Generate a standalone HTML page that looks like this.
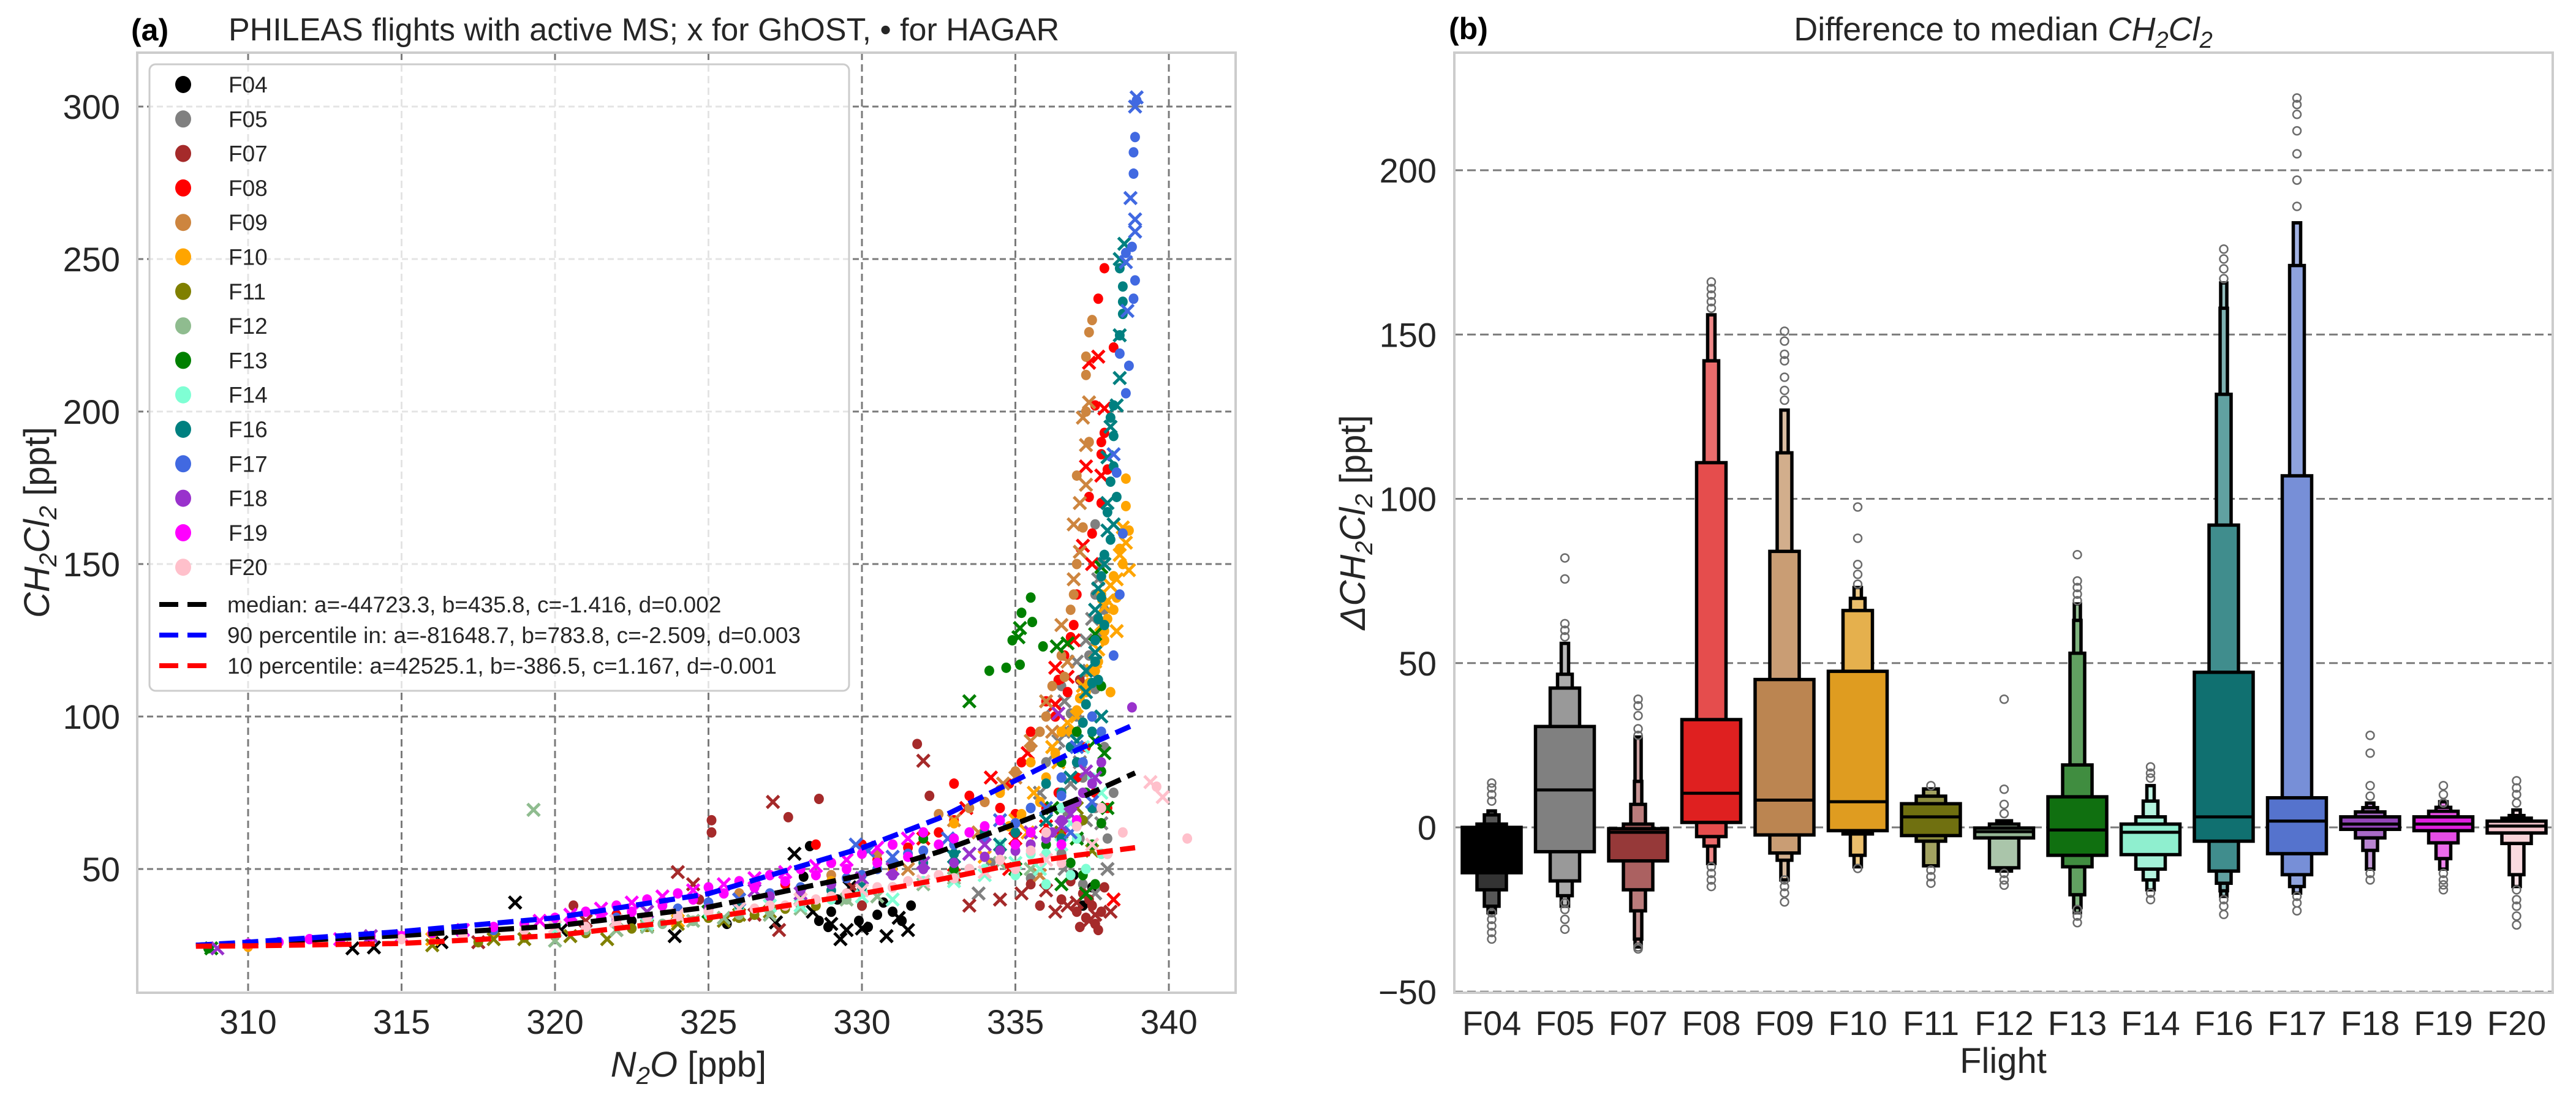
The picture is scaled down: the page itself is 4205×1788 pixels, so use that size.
<!DOCTYPE html>
<html><head><meta charset="utf-8"><title>PHILEAS CH2Cl2</title>
<style>
html,body{margin:0;padding:0;background:#fff;}
svg{display:block;font-family:"Liberation Sans",Arial,sans-serif;}
</style></head>
<body>
<svg id="fig" xmlns="http://www.w3.org/2000/svg" width="4205" height="1788" viewBox="0 0 4205 1788">
<rect x="0" y="0" width="4205" height="1788" fill="#fff"/>
<defs><clipPath id="clipA"><rect x="224" y="86" width="1793" height="1535"/></clipPath></defs>
<g id="panelA"></g>
<g id="panelB"></g>
</svg>
<script>
// ---------------- Panel (a) data ----------------
const flights = ['F04','F05','F07','F08','F09','F10','F11','F12','F13','F14','F16','F17','F18','F19','F20'];
const flightColors = ['#000000','#808080','#a52a2a','#ff0000','#cd853f','#ffa500','#808000','#8fbc8f','#008000','#7fffd4','#008080','#4169e1','#9932cc','#ff00ff','#ffc0cb'];
const xTicksA = [310,315,320,325,330,335,340];
const yTicksA = [50,100,150,200,250,300];
// HAGAR (dots) per flight: flat [n2o, ch2cl2, ...]
const dotsF04 = [328.1,47.5,328.3,57.5,329.2,40,329.9,33,330.5,35,331.6,38,328.9,31,330.7,39,322.5,33,325.6,32,337.2,38,337.5,44,336.9,48,329,36,330,38,331,36,331.3,33,330.2,31,328.6,33];
const dotsF05 = [336.3,100,336.8,101,337.6,163,337.8,126,337.6,109,336.8,90,337.2,80,337.6,70,338.0,60,336.5,55,337.2,45,335.5,47,334.2,52,331,44,328,38,325,36,337.8,150,337.6,140,337.9,135,337.4,120,337.2,110,337,100,336.5,110,336.6,95,336,85,337.9,90,338.2,75,337.8,55,337.1,60,336.7,68];
const dotsF07 = [325.1,66,325.1,62,328.6,73,327.6,67,331.8,91,332.2,74,337.1,112,337.5,38,337.3,34,337.8,36,337.6,32,320.6,38,318,30,324.7,40,330,38,335.5,45,337.4,40,337.2,42,337.9,44,336.8,46,336.5,40,335.8,38,337,36,337.7,30,337.1,31];
const dotsF08 = [333.5,74,333,78,334,72,335,68,336,70,336.4,75,337,80,336.5,62,331.5,57,330.5,53,328.5,58,327.5,45,326,42,322,35,318,30,337.9,247,337.7,237,338.2,221,337.6,202,337.9,193,337.8,190,337.8,186,338,181,337.4,172,337.8,170,336.6,120,336.8,126,336.7,108,336.3,100,337.5,160,337,140,336.9,130,336.4,112,336,105,335.5,95,335.2,85,334.8,78,334.5,70,333,66,332.5,62,330,58,329,52,337.3,90,337.6,75,338,70];
const dotsF09 = [337.5,230,337.4,226,337.3,218,337.3,212,337,179,337.2,162,336.8,135,336.6,113,336,100,335.5,90,334,72,332.5,68,331,58,329,48,326,42,320,32,337,150,336.9,140,336.5,120,336.2,110,335.8,95,335,82,334.5,76,333.5,70,332,62,330.5,55,337.3,200,337.4,190];
const dotsF10 = [338.6,178,338.6,169,338.7,161,338.5,150,338.2,146,338.3,139,338,132,337.9,125,337.7,118,337.4,111,337.1,106,337.8,140,338.1,108,336.5,95,335.5,85,334.5,75,333,65,330,48,327,41,324,36,318,29,310,24.5,338.4,155,338.2,135,337.9,128,337.6,115,337.3,108,337,102,336.8,95,336.3,88,336,80,335.8,72,335.2,68,334.8,64,334,60,333,55,331,50,329,46,328,42];
const dotsF11 = [323,31,326,34,327,36,319,27.5,335.5,58,337.2,66,317.5,26,324.5,33,325,34,326.5,35,320,28,321,29,322.5,30.5,327.5,37,328.5,38];
const dotsF12 = [321,30,323.5,32,326,35,328,38,331,44,336,55,324.5,33,327,36,329.5,40,332,46,334,50];
const dotsF13 = [335.5,139,335.2,134,335.55,131,334.9,125,335.9,123,334.15,115,334.7,116,335.15,117,337.8,110,337,95,336.5,85,337.3,75,337.8,65,338,55,337.6,45,332,60,326.5,44,318,30,308.7,24,337.5,58,336.8,52,337.2,48,336,58,334.5,56,333,50,330,44,328,40,337.8,82,337.5,100];
const dotsF14 = [336.5,70,337,60,335.5,55,334,50,337.5,80,336,45,330,42,325,35,336,55,337.3,50,335,48,334.5,58,333.5,50,332,46,331,44,329,40,328,39,326,37,337.8,55,336.8,48];
const dotsF16 = [338.4,247,338.5,241,338.5,236,338.5,232,338.4,225,338.2,202,338.1,198,338.2,192,338.2,182,338.1,177,338.3,172,338.0,167,338.1,158,337.9,153,337.8,146,337.8,139,337.7,132,337.6,125,337.6,118,337.5,111,337.3,104,337.5,95,337,85,336.5,75,335,62,333,55,330,44,326,38,337.9,130,337.7,112,337.2,98,336.8,90,336,78,335.5,70,334,62,332,52,331,48,329,43,336.5,60,337.5,70];
const dotsF17 = [338.95,302,338.9,290,338.85,285,338.85,278,338.8,254,338.6,252,338.9,243,338.85,237,338.4,219,338.7,215,338.6,206,338.3,180,337.5,100,336.5,80,335,65,333,58,331.5,55,330.5,50,329.5,47,327,42,324,37,322,34,318,30,313,27,334,60,335.5,70,336.5,74,337.2,85,337.8,95,338.2,120,338.4,140,338.5,160,332,56,331,52,330,48,329,45,328,44,325,39,320,32,316,29,311,26];
const dotsF18 = [338.8,103,337.5,78,337,72,336.5,66,336,60,335,56,334,54,332,50,329,45,325,37,322,33,337.8,85,337.2,75,336.8,70,336.2,62,335.5,58,334.5,56,333,52,331,48,328,43,327,41];
const dotsF19 = [332,62,331,58,330,55,329,52,328,50,327,48,326,46,325,44,324,42,323,40,322,38,321,36,320,34,319,32,318,31,316,29,314,28,312,27,310,25.5,333,60,334,64,335,58,326.5,44,327.5,46,328.5,48,329.5,50,330.5,52,331.5,54,332.5,58,333.5,62,334.5,66,335.5,62,336.5,58,337,66,325.5,42,324.5,40,323.5,38,322.5,36,321.5,34,320.5,33,317,29.5,315,28,313,26.5,311,26];
const dotsF20 = [340.6,60,339.6,77,338,55,336.5,52,335,50,333,47,331,44,329,41,327,38,325,36,323,34,321,31,319,30,317,28,315,27,336,62,337,64,335.5,56,334.5,53,333.5,50,332.5,48,331.5,46,330.5,44,329.5,42,328.5,40,327.5,38,326.5,37,324,34.5,322,32.5,337.8,70,338.5,62];
// GhOST (crosses) per flight
const crossF04 = [313.4,24,314.1,24.3,316.3,26,318.7,39,320.2,30,323.9,28,327.2,32.5,328.4,36,329.3,27,329.5,30,330,30.5,331.5,30,327.8,55,329.6,44,330.8,28,329,32,331.2,34,322,30];
const crossF05 = [336.2,103,337.5,132,337.4,115,336.9,95,337.1,85,335.8,75,337.8,65,336.6,50,337.6,42,333.8,42,336.3,88,337.7,145,337.3,125,337,118,336.6,105,336.4,92,336.8,78,337.3,66,338,50];
const crossF07 = [327.1,72,332,85.5,324,49,324.5,45,326.5,35,327.3,30,329.7,44,336.7,38,337.4,33,338.1,36,334.5,40,336,43,317.5,26,321,33,337.6,35,337,39,336.3,36,335.2,42,333.5,38];
const crossF08 = [337.7,218,337.4,216,337.9,201,337.3,182,337.8,179,337.2,156,336.3,116,336.7,113,335,60,336,64,334.8,50,333,48,338.2,40,337.5,150,336.9,125,336.3,104,335.4,88,334.2,80,333.4,70,332,60];
const crossF09 = [337.4,203,337.2,198,337.3,189,337.3,176,337.1,170,336.9,163,337.1,154,336.7,118,336.2,95,335,80,333.8,62,331.5,50,328,40,335.8,48,336.9,145,336.5,130,336,105,335.5,92,334.6,78,333,66];
const crossF10 = [338.6,157,338.4,153,338.7,148,338.1,143,337.9,136,338.3,128,337.7,122,337.5,115,337,100,336.2,90,335.4,62,334,54,324,33,316,27,338.5,162,338.3,145,338,138,337.8,130,337.6,118,337.2,110,336.7,98,336.4,85,335.6,75,335,66];
const crossF11 = [320.5,28,322,30,324,32,325.5,33,318,27,316,25,321.7,27,336.5,62,337,70,337.5,56,323,31.5,326,35,327,36,319,27];
const crossF12 = [319.3,69.4,320,26.5,322,30,324.5,33,327,35,329.5,40,332,45,334.5,52,337,60,323,31,325.5,34,328,37,330.5,41,333,47,335.5,50];
const crossF13 = [335.15,129,335.1,126,336.35,123,336.7,124,337.8,149,337.6,127,333.5,105,337.9,88,336.2,70,337.3,42,308.8,24,322,33,325,36,337,60,336.5,45,335,50,338,70,337.6,92];
const crossF14 = [337.2,90,336.8,65,335,52,333,46,337.8,75,331,40,327,38,323,32,320,30,336.5,58,335.8,50,334,48,330,41,328,38];
const crossF16 = [338.55,255,338.4,250,338.4,225,338.4,211,338.3,202,338.1,195,338.0,185,338.2,163,338.0,161,337.9,150,337.7,142,337.6,121,337.3,115,337.8,100,336.8,80,334.5,58,338,170,337.6,135,337.3,108,337,92,336,66,333,54];
const crossF17 = [338.95,303,338.9,300,338.75,270,338.9,263,338.9,259,338.6,249,338.65,233,338.2,186,337,90,336,70,332.8,60,330.2,56,329.8,58,333.5,55,326,40,331,54,334.5,66,336.8,62,337.5,72];
const crossF18 = [336.4,101,337.3,82,336.8,68,335.5,62,333.5,55,331,50,326.5,43,323,36,314,28,309,24,337.6,80,336.5,64,334,58,332,52,330,47,328,42];
const crossF19 = [331.5,60,330.5,57,329.5,53,328.5,51,327.5,49,326.5,47,325.5,45,324.5,43,323.5,41,322.5,39,321.5,37,320.5,35,319.5,33,317,30,315,28,313,27];
const crossF20 = [339.4,78.5,339.8,73.6,337.5,58,336,53,334,49,332,46,330,43,328,40,326,37,324,35,322,33,320,31];
const dotsAll = [dotsF04,dotsF05,dotsF07,dotsF08,dotsF09,dotsF10,dotsF11,dotsF12,dotsF13,dotsF14,dotsF16,dotsF17,dotsF18,dotsF19,dotsF20];
const crossAll = [crossF04,crossF05,crossF07,crossF08,crossF09,crossF10,crossF11,crossF12,crossF13,crossF14,crossF16,crossF17,crossF18,crossF19,crossF20];
// fitted curves
const curveX = [308.3,310,315,320,325,330,332.5,335,337,338.9];
const medianY = [25,25.8,28.2,31.3,37.5,48,55.6,64.8,72.8,81.5];
const p90Y = [25,26,29.5,34,41.9,56.9,66.6,79,89,97.5];
const p10Y = [24.7,24.8,25.6,28.2,34,41.9,46.5,51.6,54.5,57];
const fitLabels = ['median: a=-44723.3, b=435.8, c=-1.416, d=0.002','90 percentile in: a=-81648.7, b=783.8, c=-2.509, d=0.003','10 percentile: a=42525.1, b=-386.5, c=1.167, d=-0.001'];

// ---------------- Panel (b) data ----------------
const yTicksB = [-50,0,50,100,150,200];
const boxMedians = [-8,11.4,-1.5,10.4,8.3,7.8,3.2,-1.3,-0.8,-1.5,3.2,1.9,1,1,0.4];
const boxLevels = [
 [[-13.8,0],[-19,1],[-24,3.8],[-26,5]],
 [[-7.4,30.7],[-16.3,42.4],[-20.8,46.6],[-24,56]],
 [[-10.2,-0.4],[-19,1],[-25.4,7],[-34,14],[-36.4,27.5]],
 [[1.5,32.8],[-2.8,111],[-5.7,142],[-11,156]],
 [[-2.3,45],[-7.8,84],[-10,114],[-16,127]],
 [[-1,47.5],[-2,66],[-8.5,69.7],[-12,73]],
 [[-2.5,7.2],[-4.2,9.5],[-11.7,11.7]],
 [[-3.2,-0.2],[-12.3,1],[-13.3,2]],
 [[-8.5,9.3],[-12,19],[-20.5,53],[-24.4,63],[-26,68]],
 [[-8.3,1],[-12.7,3.2],[-16,8],[-19,12.7]],
 [[-4.2,47.2],[-13.3,92],[-17,131.8],[-19.3,158],[-21,165.7]],
 [[-8,9],[-14.4,107],[-18,171],[-20,184]],
 [[-0.6,3.2],[-3.2,4.7],[-7,6],[-12.7,7.4]],
 [[-1,3.2],[-4.7,4.9],[-9.5,6.1],[-12.7,7.8]],
 [[-1.7,1.9],[-4.9,2.8],[-14.4,3.6],[-18,5.3]]
];
const boxOutliers = [
 [8,10,12,13.5,-26,-28,-30,-32,-34],
 [58,60,62,75.6,82,-23,-25,-28,-31],
 [28,30,34,37,39,-36.4,-37],
 [158,160,162,164,166,-12,-14,-16,-18],
 [130,133,137,142,144,148,151,-16,-18,-20,-22.7],
 [74,77,80,88,97.5,-12.5],
 [12.7,-13,-15,-17],
 [39,4.2,7,11.6,-14,-16,-17.6],
 [69,71,73,75,83,-25,-27,-29],
 [15,16.5,18.4,-20,-22],
 [167,170,173,176,-22,-24,-26.5],
 [189,197,205,212,217,220,222,-21,-23,-25.4],
 [9.5,12.7,22.6,28,-14,-16],
 [7.4,10,12.7,-14,-16,-17.5,-19],
 [7.4,10,12,14.2,-19,-22,-24,-27,-29.7]
];

// ---------------- helpers ----------------
const NS='http://www.w3.org/2000/svg';
function el(parent, tag, attrs, text){
  const e=document.createElementNS(NS,tag);
  for(const k in attrs) e.setAttribute(k,attrs[k]);
  if(text!==undefined) e.textContent=text;
  parent.appendChild(e); return e;
}
function hexToRgb(h){return [parseInt(h.substr(1,2),16),parseInt(h.substr(3,2),16),parseInt(h.substr(5,2),16)];}
function rgbToHex(r){return '#'+r.map(v=>Math.max(0,Math.min(255,Math.round(v))).toString(16).padStart(2,'0')).join('');}
function desat(hex,p){
  let [r,g,b]=hexToRgb(hex).map(v=>v/255);
  const mx=Math.max(r,g,b),mn=Math.min(r,g,b);let h=0,s=0,l=(mx+mn)/2;
  if(mx!==mn){const d=mx-mn;s=l>0.5?d/(2-mx-mn):d/(mx+mn);
    if(mx===r)h=(g-b)/d+(g<b?6:0);else if(mx===g)h=(b-r)/d+2;else h=(r-g)/d+4;h/=6;}
  s*=p;
  function hue(p,q,t){if(t<0)t+=1;if(t>1)t-=1;if(t<1/6)return p+(q-p)*6*t;if(t<1/2)return q;if(t<2/3)return p+(q-p)*(2/3-t)*6;return p;}
  let out;
  if(s===0) out=[l,l,l]; else {const q=l<0.5?l*(1+s):l+s-l*s,pp=2*l-q;out=[hue(pp,q,h+1/3),hue(pp,q,h),hue(pp,q,h-1/3)];}
  return rgbToHex(out.map(v=>v*255));
}
function lighten(hex,t){return rgbToHex(hexToRgb(hex).map(v=>v+(255-v)*t));}

// ---------------- Panel (a) ----------------
const A=document.getElementById('panelA');
const AX0=224,AX1=2017,AY0=86,AY1=1621;
function xs(v){return 405+(v-310)*50.1;}
function ys(v){return 1419-(v-50)*4.98;}

const gridA=el(A,'g',{});


xTicksA.forEach(v=>{
  const l=el(gridA,'line',{x1:xs(v),x2:xs(v),y1:AY0,y2:AY1,stroke:'#7a7a7a','stroke-width':3,'stroke-dasharray':'12,7'});
  
  
  const t=el(A,'text',{x:xs(v),y:1688,'font-size':56,'text-anchor':'middle',fill:'#262626'},String(v));
  
  
});
yTicksA.forEach(v=>{
  const l=el(gridA,'line',{x1:AX0,x2:AX1,y1:ys(v),y2:ys(v),stroke:'#7a7a7a','stroke-width':3,'stroke-dasharray':'10,6'});
  
  
  const t=el(A,'text',{x:196,y:ys(v)+20,'font-size':56,'text-anchor':'end',fill:'#262626'},String(v));
  
  
});

const pts=el(A,'g',{'clip-path':'url(#clipA)'});


flights.forEach((f,i)=>{
  const col=flightColors[i];
  const g=el(pts,'g',{});
  
  
  const d=dotsAll[i];
  for(let k=0;k<d.length;k+=2){
    const c=el(g,'ellipse',{cx:xs(d[k]),cy:ys(d[k+1]),rx:8,ry:8.5,fill:col});
    
    
  }
  const x=crossAll[i];
  for(let k=0;k<x.length;k+=2){
    const cx=xs(x[k]),cy=ys(x[k+1]),s=10;
    const p=el(g,'path',{d:`M${cx-s},${cy-s}L${cx+s},${cy+s}M${cx-s},${cy+s}L${cx+s},${cy-s}`,stroke:col,'stroke-width':5,fill:'none'});
    
    
  }
});

function curvePath(ys_){return curveX.map((v,k)=>(k?'L':'M')+xs(v).toFixed(1)+','+ys(ys_[k]).toFixed(1)).join('');}
[[medianY,'#000000','median-fit'],[p90Y,'#0000ff','p90-fit'],[p10Y,'#ff0000','p10-fit']].forEach(c=>{
  const p=el(A,'path',{d:curvePath(c[0]),stroke:c[1],'stroke-width':8.5,fill:'none','stroke-dasharray':'26,12','stroke-linejoin':'round'});
  
  
});

const frameA=el(A,'rect',{x:AX0,y:AY0,width:AX1-AX0,height:AY1-AY0,fill:'none',stroke:'#cccccc','stroke-width':4});



// legend
const leg=el(A,'g',{});


el(leg,'rect',{x:244,y:105,width:1142,height:1023,rx:10,fill:'rgba(255,255,255,0.8)',stroke:'#cccccc','stroke-width':3});
flights.forEach((f,i)=>{
  const y=138+56.3*i;
  const g=el(leg,'g',{});
  
  
  el(g,'ellipse',{cx:299,cy:y,rx:13,ry:14,fill:flightColors[i]});
  el(g,'text',{x:373,y:y+13,'font-size':37,fill:'#262626'},f);
});
[['#000000',987],['#0000ff',1037],['#ff0000',1087]].forEach((c,i)=>{
  const g=el(leg,'g',{});
  
  
  el(g,'line',{x1:260,x2:337,y1:c[1],y2:c[1],stroke:c[0],'stroke-width':8,'stroke-dasharray':'31,15'});
  el(g,'text',{x:371,y:c[1]+13,'font-size':37,fill:'#262626'},fitLabels[i]);
});

// titles & labels (a)
let t=el(A,'text',{x:214,y:66,'font-size':50,'font-weight':'bold',fill:'#000'},'(a)');


t=el(A,'text',{x:373,y:66,'font-size':52,fill:'#262626'},'PHILEAS flights with active MS; x for GhOST, \u2022 for HAGAR');


t=el(A,'text',{x:1124,y:1758,'font-size':58,'text-anchor':'middle',fill:'#262626'});


t.innerHTML='<tspan font-style="italic">N</tspan><tspan font-style="italic" font-size="40" dy="12">2</tspan><tspan font-style="italic" dy="-12">O</tspan> [ppb]';
t=el(A,'text',{x:0,y:0,'font-size':58,'text-anchor':'middle',fill:'#262626',transform:'translate(80,853) rotate(-90)'});


t.innerHTML='<tspan font-style="italic">CH</tspan><tspan font-style="italic" font-size="40" dy="12">2</tspan><tspan font-style="italic" dy="-12">Cl</tspan><tspan font-style="italic" font-size="40" dy="12">2</tspan><tspan dy="-12"> [ppt]</tspan>';

// ---------------- Panel (b) ----------------
const B=document.getElementById('panelB');
const BX0=2374,BX1=4167;
function rx(i){return 2435+119.5*i;}
function ry(v){return 1351-v*5.365;}
yTicksB.forEach(v=>{
  const l=el(B,'line',{x1:BX0,x2:BX1,y1:ry(v),y2:ry(v),stroke:'#7a7a7a','stroke-width':3,'stroke-dasharray':'14,7'});
  
  
  const tt=el(B,'text',{x:2345,y:ry(v)+20,'font-size':56,'text-anchor':'end',fill:'#262626'},v<0?'\u2212'+Math.abs(v):String(v));
  
  
});
flights.forEach((f,i)=>{
  const g=el(B,'g',{});
  
  
  const base=desat(flightColors[i],0.75);
  const lv=boxLevels[i];
  const tints=[0,0.2,0.34,0.46,0.56];
  for(let k=lv.length-1;k>=0;k--){
    const w=Math.max(10,96*Math.pow(0.5,k));
    const r=el(g,'rect',{x:rx(i)-w/2,y:ry(lv[k][1]),width:w,height:ry(lv[k][0])-ry(lv[k][1]),fill:lighten(base,tints[k]),stroke:'#000','stroke-width':5.5});
    
    
  }
  const m=el(g,'line',{x1:rx(i)-48,x2:rx(i)+48,y1:ry(boxMedians[i]),y2:ry(boxMedians[i]),stroke:'#000','stroke-width':5});
  
  
  boxOutliers[i].forEach(v=>{
    const c=el(g,'circle',{cx:rx(i),cy:ry(v),r:6.5,fill:'none',stroke:'#6b6b6b','stroke-width':2.5});
    
    
  });
  const tl=el(B,'text',{x:rx(i),y:1690,'font-size':56,'text-anchor':'middle',fill:'#262626'},f);
  
  
});
const frameB=el(B,'rect',{x:BX0,y:AY0,width:BX1-BX0,height:AY1-AY0,fill:'none',stroke:'#cccccc','stroke-width':4});


t=el(B,'text',{x:2365,y:64,'font-size':50,'font-weight':'bold',fill:'#000'},'(b)');


t=el(B,'text',{x:3270,y:66,'font-size':54,'text-anchor':'middle',fill:'#262626'});


t.innerHTML='Difference to median <tspan font-style="italic">CH</tspan><tspan font-style="italic" font-size="38" dy="12">2</tspan><tspan font-style="italic" dy="-12">Cl</tspan><tspan font-style="italic" font-size="38" dy="12">2</tspan>';
t=el(B,'text',{x:3270,y:1752,'font-size':58,'text-anchor':'middle',fill:'#262626'},'Flight');


t=el(B,'text',{x:0,y:0,'font-size':58,'text-anchor':'middle',fill:'#262626',transform:'translate(2228,853) rotate(-90)'});


t.innerHTML='<tspan font-style="italic">\u0394CH</tspan><tspan font-style="italic" font-size="40" dy="12">2</tspan><tspan font-style="italic" dy="-12">Cl</tspan><tspan font-style="italic" font-size="40" dy="12">2</tspan><tspan dy="-12"> [ppt]</tspan>';
</script>
</body></html>
